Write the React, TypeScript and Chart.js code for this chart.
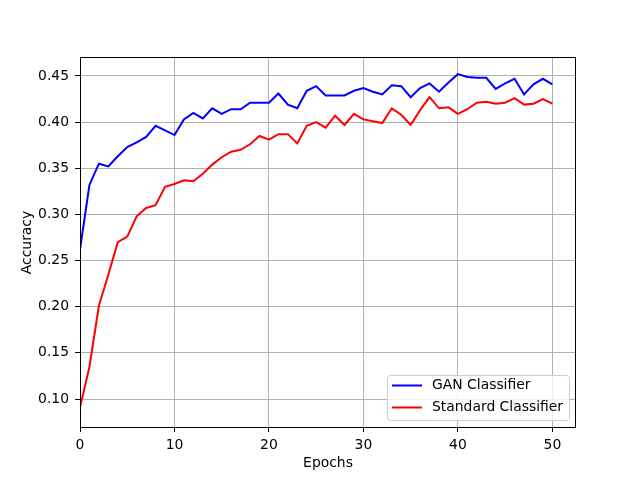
import React, { useEffect, useRef } from "react";
import { Chart, registerables } from "chart.js";

Chart.register(...registerables);

const epochs = [
  0, 1, 2, 3, 4, 5, 6, 7, 8, 9, 10, 11, 12, 13, 14, 15, 16, 17, 18, 19, 20,
  21, 22, 23, 24, 25, 26, 27, 28, 29, 30, 31, 32, 33, 34, 35, 36, 37, 38, 39,
  40, 41, 42, 43, 44, 45, 46, 47, 48, 49, 50,
];

const ganAccuracy = [
  0.262, 0.332, 0.355, 0.352, 0.363, 0.373, 0.378, 0.384, 0.396, 0.391, 0.386,
  0.403, 0.41, 0.404, 0.415, 0.409, 0.414, 0.414, 0.421, 0.421, 0.421, 0.431,
  0.419, 0.415, 0.434, 0.439, 0.429, 0.429, 0.429, 0.434, 0.437, 0.433, 0.43,
  0.44, 0.439, 0.427, 0.437, 0.442, 0.433, 0.443, 0.452, 0.449, 0.448, 0.448,
  0.436, 0.442, 0.447, 0.43, 0.441, 0.447, 0.441,
];

const standardAccuracy = [
  0.091, 0.135, 0.201, 0.235, 0.27, 0.276, 0.298, 0.307, 0.31, 0.33, 0.333,
  0.337, 0.336, 0.344, 0.354, 0.362, 0.368, 0.37, 0.376, 0.385, 0.381, 0.387,
  0.387, 0.377, 0.396, 0.4, 0.394, 0.407, 0.397, 0.409, 0.403, 0.401, 0.399,
  0.415, 0.408, 0.397, 0.413, 0.427, 0.415, 0.416, 0.409, 0.414, 0.421, 0.422,
  0.42, 0.421, 0.426, 0.419, 0.42, 0.425, 0.42,
];

const seriesLabels = ["GAN Classifier", "Standard Classifier"];
const seriesColors = ["#0000ff", "#ff0000"];

const FONT = "DejaVu Sans";
const FSIZE = 13.9;

const framePlugin = {
  id: "frameAndLegend",
  afterDraw(chart: any) {
    const ctx = chart.ctx;
    const a = chart.chartArea;
    ctx.save();
    // spines
    const L = Math.round(a.left);
    const R = Math.round(a.right);
    const T = Math.round(a.top);
    const B = Math.round(a.bottom);
    ctx.strokeStyle = "#000000";
    ctx.lineWidth = 1;
    ctx.strokeRect(L + 0.5, T - 0.5, R - L - 1, B - T + 1);
    // legend
    ctx.font = `${FSIZE}px "${FONT}"`;
    const ds = chart.data.datasets;
    let maxW = 0;
    ds.forEach((d: any) => {
      maxW = Math.max(maxW, ctx.measureText(d.label).width);
    });
    const right = R - 7;
    const bottom = B - 7;
    const w = Math.round(45 + maxW + 6);
    const h = 45;
    const left = right - w;
    const top = bottom - h;
    const r = 3;
    ctx.beginPath();
    ctx.moveTo(left + r + 0.5, top + 0.5);
    ctx.arcTo(right + 0.5, top + 0.5, right + 0.5, bottom + 0.5, r);
    ctx.arcTo(right + 0.5, bottom + 0.5, left + 0.5, bottom + 0.5, r);
    ctx.arcTo(left + 0.5, bottom + 0.5, left + 0.5, top + 0.5, r);
    ctx.arcTo(left + 0.5, top + 0.5, right + 0.5, top + 0.5, r);
    ctx.closePath();
    ctx.fillStyle = "rgba(255,255,255,0.8)";
    ctx.fill();
    ctx.strokeStyle = "#cccccc";
    ctx.lineWidth = 1;
    ctx.stroke();
    ds.forEach((d: any, i: number) => {
      const y = top + 10.5 + i * 22;
      ctx.beginPath();
      ctx.moveTo(left + 5, y);
      ctx.lineTo(left + 35, y);
      ctx.strokeStyle = d.borderColor;
      ctx.lineWidth = 2;
      ctx.stroke();
      ctx.fillStyle = "#000000";
      ctx.textBaseline = "middle";
      ctx.textAlign = "left";
      ctx.fillText(d.label, left + 45, y);
    });
    ctx.restore();
  },
};

export default function App() {
  const ref = useRef<HTMLCanvasElement>(null);
  useEffect(() => {
    if (!ref.current) return;
    const tickFont = { family: FONT, size: FSIZE };
    const chart = new Chart(ref.current, {
      type: "line",
      data: {
        labels: epochs,
        datasets: [
          {
            label: seriesLabels[0],
            data: ganAccuracy,
            borderColor: seriesColors[0],
            backgroundColor: seriesColors[0],
            borderWidth: 2,
            pointRadius: 0,
            tension: 0,
          },
          {
            label: seriesLabels[1],
            data: standardAccuracy,
            borderColor: seriesColors[1],
            backgroundColor: seriesColors[1],
            borderWidth: 2,
            pointRadius: 0,
            tension: 0,
          },
        ],
      },
      options: {
        responsive: false,
        animation: false,
        layout: { padding: { top: 58, right: 64, bottom: 0, left: 0 } },
        plugins: {
          legend: { display: false },
          tooltip: { enabled: false },
        },
        scales: {
          x: {
            type: "linear",
            min: 0,
            max: 52.5,
            afterFit(scale: any) {
              scale.height = 53;
            },
            border: { display: false },
            grid: {
              color: "#b0b0b0",
              lineWidth: 1,
              drawTicks: true,
              tickLength: 5,
              tickColor: "#000000",
            },
            ticks: {
              stepSize: 10,
              includeBounds: false,
              maxRotation: 0,
              padding: 5,
              color: "#000000",
              font: tickFont,
              callback: (v: any) => String(v),
            },
            title: {
              display: true,
              text: "Epochs",
              color: "#000000",
              font: tickFont,
              padding: { top: 0, bottom: 8 },
            },
          },
          y: {
            type: "linear",
            min: 0.0697,
            max: 0.4695,
            afterFit(scale: any) {
              scale.width = 80;
            },
            border: { display: false },
            grid: {
              color: "#b0b0b0",
              lineWidth: 1,
              drawTicks: true,
              tickLength: 5,
              tickColor: "#000000",
            },
            ticks: {
              stepSize: 0.05,
              includeBounds: false,
              padding: 6,
              color: "#000000",
              font: tickFont,
              callback: (v: any) => Number(v).toFixed(2),
            },
            title: {
              display: true,
              text: "Accuracy",
              color: "#000000",
              font: tickFont,
              padding: { top: 19, bottom: 0 },
            },
          },
        },
      },
      plugins: [framePlugin],
    });
    return () => chart.destroy();
  }, []);
  return (
    <div style={{ position: "absolute", left: 0, top: 0, width: 640, height: 480, background: "#ffffff" }}>
      <canvas ref={ref} width={640} height={480} />
    </div>
  );
}
